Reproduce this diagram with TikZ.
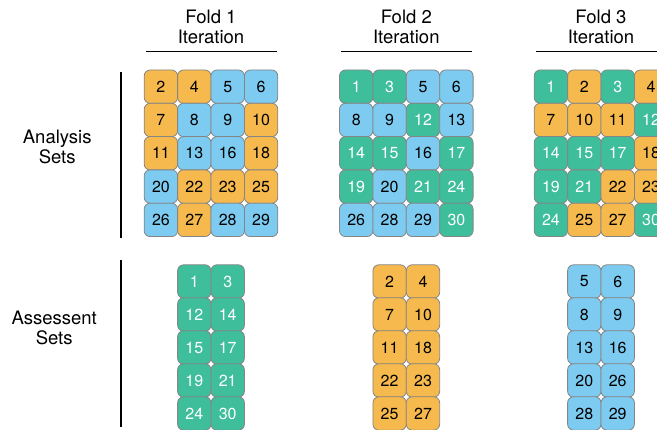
\documentclass[tikz,border=0pt]{standalone}
\usepackage{fontspec}
\setmainfont{TeX Gyre Heros}
\usetikzlibrary{positioning}

\definecolor{orangefill}{HTML}{F6B94D}
\definecolor{bluefill}{HTML}{7DCBF0}
\definecolor{greenfill}{HTML}{3EBE9B}
\definecolor{celledge}{HTML}{858585}
\colorlet{orangeink}{black}
\colorlet{blueink}{black}
\colorlet{greenink}{white}

\begin{document}
\begin{tikzpicture}[
  x=1pt, y=1pt,
  cell/.style={draw=celledge, line width=0.8pt, rounded corners=6pt,
    minimum size=33.4pt, inner sep=0pt, fill=#1fill, text=#1ink,
    font=\fontsize{16}{16}\selectfont},
  head/.style={align=center, font=\fontsize{18.5}{20.5}\selectfont},
  rule/.style={line width=1.2pt},
]
\clip (0,0) rectangle (657,430);

% row labels and their bars
\node[head] (analysis) at (57.2,283.2) {Analysis\\Sets};
\node[head] (assess) at (54.2,102.1) {Assessent\\Sets};
\coordinate (analysis top) at (121,358.3);
\coordinate (analysis bot) at (121,191.7);
\coordinate (assess top) at (121,170);
\coordinate (assess bot) at (121,3.3);
\draw[rule] (analysis top) -- (analysis bot);
\draw[rule] (assess top) -- (assess bot);

% one column per fold: header, analysis grid, assessment pair
\foreach \f/\cx/\analysis/\holdout in {
  1/211/{2/orange,4/orange,5/blue,6/blue,7/orange,8/blue,9/blue,10/orange,
    11/orange,13/blue,16/blue,18/orange,20/blue,22/orange,23/orange,25/orange,
    26/blue,27/orange,28/blue,29/blue}/{1/green,3/green,12/green,14/green,
    15/green,17/green,19/green,21/green,24/green,30/green},
  2/406.3/{1/green,3/green,5/blue,6/blue,8/blue,9/blue,12/green,13/blue,
    14/green,15/green,16/blue,17/green,19/green,20/blue,21/green,24/green,
    26/blue,28/blue,29/blue,30/green}/{2/orange,4/orange,7/orange,10/orange,
    11/orange,18/orange,22/orange,23/orange,25/orange,27/orange},
  3/601/{1/green,2/orange,3/green,4/orange,7/orange,10/orange,11/orange,12/green,
    14/green,15/green,17/green,18/orange,19/green,21/green,22/orange,23/orange,
    24/green,25/orange,27/orange,30/green}/{5/blue,6/blue,8/blue,9/blue,
    13/blue,16/blue,20/blue,26/blue,28/blue,29/blue}}{
  \node[head] (fold\f) at (\cx,403.2) {Fold \f\\Iteration};
  \coordinate (rule\f l) at (\cx-65.5,378.3);
  \coordinate (rule\f r) at (\cx+65.5,378.3);
  \draw[rule] (rule\f l) -- (rule\f r);
  \foreach \n/\c [count=\k from 0] in \analysis
    \node[cell=\c] (a\f-\n) at ({\cx+(mod(\k,4)-1.5)*33.4},{343.3-floor(\k/4)*33.3}) {\n};
  \foreach \n/\c [count=\k from 0] in \holdout
    \node[cell=\c] (s\f-\n) at ({\cx+(mod(\k,2)-0.5)*33.4},{148.5-floor(\k/2)*33}) {\n};
}
\end{tikzpicture}
\end{document}
